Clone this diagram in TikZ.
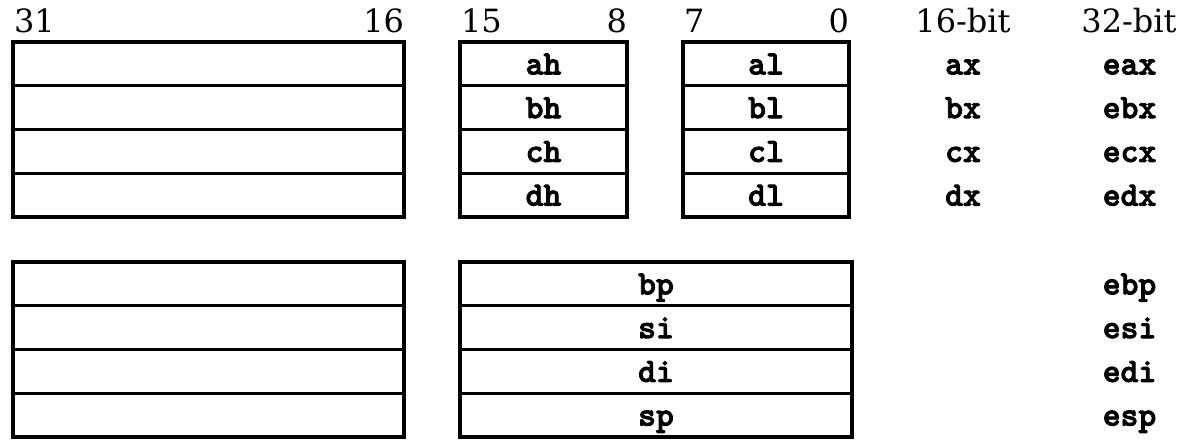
\documentclass[tikz,border=0pt]{standalone}
\usepackage{fontspec}
\setmainfont{DejaVu Serif}
\newfontfamily\regfont{lmmonolt10-bold.otf}[FakeBold=2.5]
\begin{document}
\begin{tikzpicture}[x=1pt,y=-1pt,
  regfont/.style={font=\regfont\fontsize{34}{34}\selectfont},
  cell/.style={draw=black,line width=3.2pt,inner sep=0pt,outer sep=0pt,
    minimum height=43.75pt,text height=24pt,text depth=3pt,regfont},
  reg/.style={inner sep=0pt,outer sep=0pt,text height=24pt,text depth=3pt,regfont},
  hdr/.style={inner sep=0pt,outer sep=0pt,font=\fontsize{32}{32}\selectfont}]
\useasboundingbox (0,0) rectangle (1180,440);
% headers
\node[hdr,anchor=base west] (h31) at (14,32) {31};
\node[hdr,anchor=base east] (h16) at (404,32) {16};
\node[hdr,anchor=base west] (h15) at (461,32) {15};
\node[hdr,anchor=base east] (h8) at (627,32) {8};
\node[hdr,anchor=base west] (h7) at (684,32) {7};
\node[hdr,anchor=base east] (h0) at (849,32) {0};
\node[hdr,anchor=base] (h16b) at (963,32) {16-bit};
\node[hdr,anchor=base] (h32b) at (1129,32) {32-bit};
% top group
\foreach \r/\y in {a/63.9,b/107.6,c/151.4,d/195.1}{
  \node[cell,minimum width=391pt] (u\r) at (208.5,\y) {};
  \node[cell,minimum width=167pt] (\r h) at (543.5,\y) {\r h};
  \node[cell,minimum width=166pt] (\r l) at (766,\y) {\r l};
  \node[reg] (\r x) at (963,\y) {\r x};
  \node[reg] (e\r x) at (1129.5,\y) {e\r x};
}
% bottom group
\foreach \r/\y in {bp/283.9,si/327.6,di/371.4,sp/415.1}{
  \node[cell,minimum width=391pt] (u\r) at (208.5,\y) {};
  \node[cell,minimum width=392pt] (\r) at (656,\y) {\r};
  \node[reg] (e\r) at (1129.5,\y) {e\r};
}
\end{tikzpicture}
\end{document}
